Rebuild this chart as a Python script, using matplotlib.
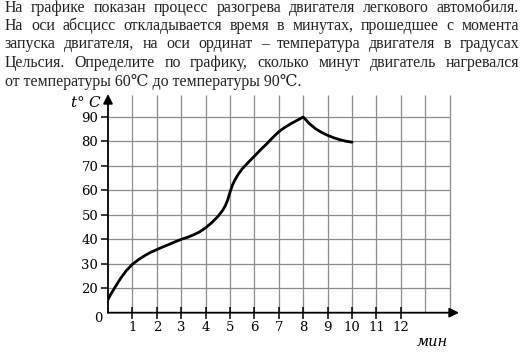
import matplotlib.pyplot as plt

# text of the task above the chart
lines = [
    "На графике показан процесс разогрева двигателя легкового автомобиля.",
    "На оси абсцисс откладывается время в минутах, прошедшее с момента",
    "запуска двигателя, на оси ординат – температура двигателя в градусах",
    "Цельсия. Определите по графику, сколько минут двигатель нагревался",
    "от температуры 60℃ до температуры 90℃.",
]

# curve: minutes -> temperature, °C
minutes = [0, 0.1, 0.25, 0.5, 0.75, 1, 1.25, 1.5, 1.75, 2, 2.25, 2.5, 2.75, 3,
           3.25, 3.5, 3.75, 4, 4.25, 4.5, 4.6, 4.7, 4.8, 4.9, 5, 5.1, 5.2, 5.35,
           5.5, 5.75, 6, 6.25, 6.5, 6.75, 7, 7.25, 7.5, 8,
           8.25, 8.5, 8.75, 9, 9.25, 9.5, 9.75, 10]
temps = [15.4, 17.3, 19.8, 23.8, 27.2, 29.8, 31.7, 33.3, 34.7, 35.8, 36.9,
         37.9, 39.0, 40, 40.8, 41.8, 43.0, 44.7, 46.8, 49.3, 50.6, 51.9, 53.6,
         56.0, 59.3, 62.2, 64.3, 66.8, 68.8, 71.5, 74, 76.6, 79, 81.6, 84, 85.8,
         87.3, 90, 87.3, 85.2, 83.7, 82.5, 81.5, 80.7, 80.1, 79.7]

x_ticks = list(range(1, 13))
y_ticks = [20, 30, 40, 50, 60, 70, 80, 90]

W, H = 530, 353
fig = plt.figure(figsize=(W / 100, H / 100), dpi=100)


def fx(px):
    return px / W


def fy(py):
    return 1 - py / H


# axes box in pixels: x 0 at 108, arrow tip at 459; y bottom at 312.7, top at 94
ax = fig.add_axes([fx(108), fy(312.7), fx(459) - fx(108), (312.7 - 94) / H])
ax.set_xlim(0, 14.38)
ax.set_ylim(10, 99.4)
for s in ax.spines.values():
    s.set_visible(False)

# grid
ax.vlines(range(1, 15), 10, 99, color='#8c8c8c', lw=0.9, zorder=1)
ax.hlines(y_ticks, 0, 14, color='#8c8c8c', lw=0.9, zorder=1)

# axes with arrows
ax.annotate('', xy=(14.38, 10), xytext=(0, 10), annotation_clip=False,
            arrowprops=dict(arrowstyle='-|>', color='black', lw=1.3,
                            mutation_scale=14, shrinkA=0, shrinkB=0))
ax.annotate('', xy=(0, 99.4), xytext=(0, 10), annotation_clip=False,
            arrowprops=dict(arrowstyle='-|>', color='black', lw=1.3,
                            mutation_scale=14, shrinkA=0, shrinkB=0))

ax.plot(minutes, temps, color='black', lw=2.0, solid_capstyle='round',
        solid_joinstyle='round', zorder=3)

serif = 'DejaVu Serif'
ax.set_xticks(x_ticks)
ax.set_xticklabels([str(v) for v in x_ticks], family=serif, fontsize=9.5)
ax.set_yticks(y_ticks)
ax.set_yticklabels([str(v) for v in y_ticks], family=serif, fontsize=9.5)
ax.tick_params(axis='x', direction='inout', length=8, width=1.1, pad=2)
ax.tick_params(axis='y', direction='out', length=5, width=1.1, pad=2)

fig.text(fx(98.3), fy(319), '0', family=serif, fontsize=9.5, ha='center', va='center')
fig.text(fx(102), fy(103), '$t$° $C$', family=serif, fontsize=11, ha='right', va='center',
         math_fontfamily='dejavuserif')
fig.text(fx(432), fy(342), 'мин', family=serif, style='italic', fontsize=10.5,
         ha='center', va='center')

# justified paragraph
fams = ['Liberation Serif', 'DejaVu Serif', 'DejaVu Sans']
fs = 11.4
baselines = [11.5, 30, 48.5, 67, 85.5]
renderer = fig.canvas.get_renderer()
left, right = 5, 519
for i, line in enumerate(lines):
    y = fy(baselines[i])
    if i == len(lines) - 1:
        fig.text(fx(left), y, line, family=fams, fontsize=fs,
                 color='#222222', va='baseline')
        continue
    words = line.split(' ')
    objs = [fig.text(0, y, w, family=fams, fontsize=fs,
                     color='#222222', va='baseline') for w in words]
    widths = [o.get_window_extent(renderer).width for o in objs]
    gap = (right - left - sum(widths)) / (len(words) - 1)
    x = left
    for o, w in zip(objs, widths):
        o.set_x(fx(x))
        x += w + gap

fig.savefig('out.png', dpi=100)
